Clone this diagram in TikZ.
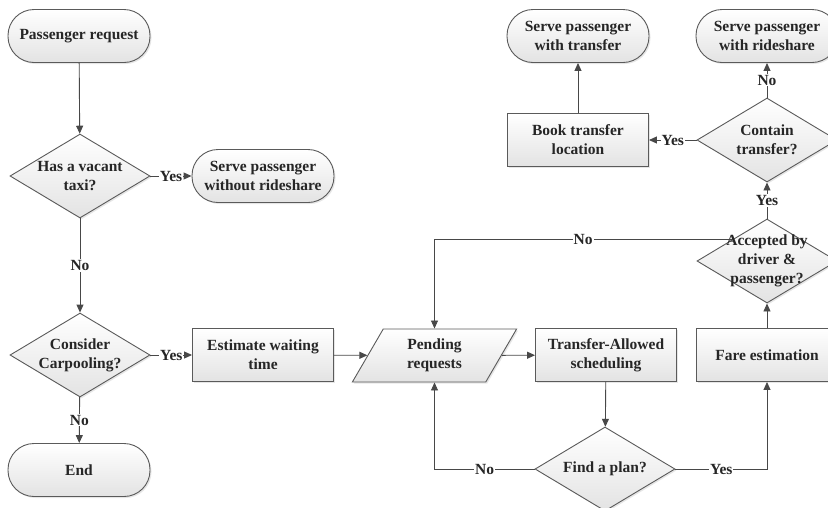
\documentclass[tikz,border=0pt]{standalone}
\usepackage{fontspec}
\setmainfont{Liberation Serif}
\usepackage{tikz}
\usetikzlibrary{shapes.geometric}
\usetikzlibrary{arrows.meta}
\usetikzlibrary{shadows}
\usetikzlibrary{calc}
\definecolor{linegray}{HTML}{484848}
\definecolor{boxgray}{HTML}{5A5A5A}
\tikzset{
	box font/.style={font=\fontsize{15.5}{19}\selectfont\bfseries, text=black!85, align=center},
	box base/.style={draw=boxgray, line width=0.9pt, top color=white, bottom color=gray!22,
		drop shadow={opacity=0.2, shadow xshift=1.5pt, shadow yshift=-1.5pt}, box font},
	terminal/.style={box base, rectangle, rounded corners=26pt, minimum width=142pt, minimum height=53pt},
	process/.style={box base, rectangle, minimum width=141pt, minimum height=53pt},
	decision/.style={box base, diamond, aspect=1.667, inner sep=0pt, minimum width=140pt, minimum height=84pt,
		label={[box font]center:{#1}}},
	datain/.style={box base, trapezium, trapezium left angle=65, trapezium right angle=115,
		trapezium stretches=true, minimum width=165pt, minimum height=53pt},
	flow/.style={draw=linegray, line width=0.9pt, -{Triangle[length=8pt,width=7pt]}},
	answer/.style={fill=white, inner sep=1pt, font=\fontsize{15.5}{17}\selectfont\bfseries, text=black!85},
}
\begin{document}
\begin{tikzpicture}[x=1pt, y=-1pt]
	\useasboundingbox (0,0) rectangle (828,507);
	\clip (0,0) rectangle (828,507);
	% left column
	\node[terminal] at (79,36) (req) {Passenger request};
	\node[decision={Has a vacant\\taxi?}] at (80,176) (vac) {};
	\node[terminal] at (263,176) (nors) {Serve passenger\\without rideshare};
	\node[decision={Consider\\Carpooling?}] at (80,355) (carp) {};
	\node[terminal] at (79,470) (end) {End};
	% middle row
	\node[process] at (263,355) (wait) {Estimate waiting\\time};
	\node[datain] at (434.5,355.5) (pend) {Pending\\requests};
	\node[process] at (606,355) (sched) {Transfer-Allowed\\scheduling};
	\node[decision={Find a plan?}] at (605,469) (plan) {};
	\node[process] at (767,355) (fare) {Fare estimation};
	% right column
	\node[decision={Accepted by\\driver \&\\passenger?}] at (767,261) (acc) {};
	\node[decision={Contain\\transfer?}] at (767,140) (cont) {};
	\node[process] at (578,140) (book) {Book transfer\\location};
	\node[terminal] at (578,36) (trans) {Serve passenger\\with transfer};
	\node[terminal] at (767,36) (ride) {Serve passenger\\with rideshare};
	\coordinate (accl) at ($(acc.north)!0.5!(acc.west)$);

	\draw[flow] (req) -- (vac);
	\draw[flow] (vac) -- node[answer] {Yes} (nors);
	\draw[flow] (vac) -- node[answer] {No} (carp);
	\draw[flow] (carp) -- node[answer] {Yes} (wait);
	\draw[flow] (carp) -- node[answer] {No} (end);
	\draw[flow] (wait) -- (pend);
	\draw[flow] (pend) -- (sched);
	\draw[flow] (sched) -- (plan);
	\draw[flow] (plan.west) -| node[answer, pos=0.25] {No} (pend.south);
	\draw[flow] (plan.east) -| node[answer, pos=0.25] {Yes} (fare.south);
	\draw[flow] (fare) -- (acc);
	\draw[flow] (accl) -| node[answer, pos=0.25] {No} (pend.north);
	\draw[flow] (acc) -- node[answer] {Yes} (cont);
	\draw[flow] (cont) -- node[answer] {No} (ride);
	\draw[flow] (cont) -- node[answer] {Yes} (book);
	\draw[flow] (book) -- (trans);
\end{tikzpicture}
\end{document}
